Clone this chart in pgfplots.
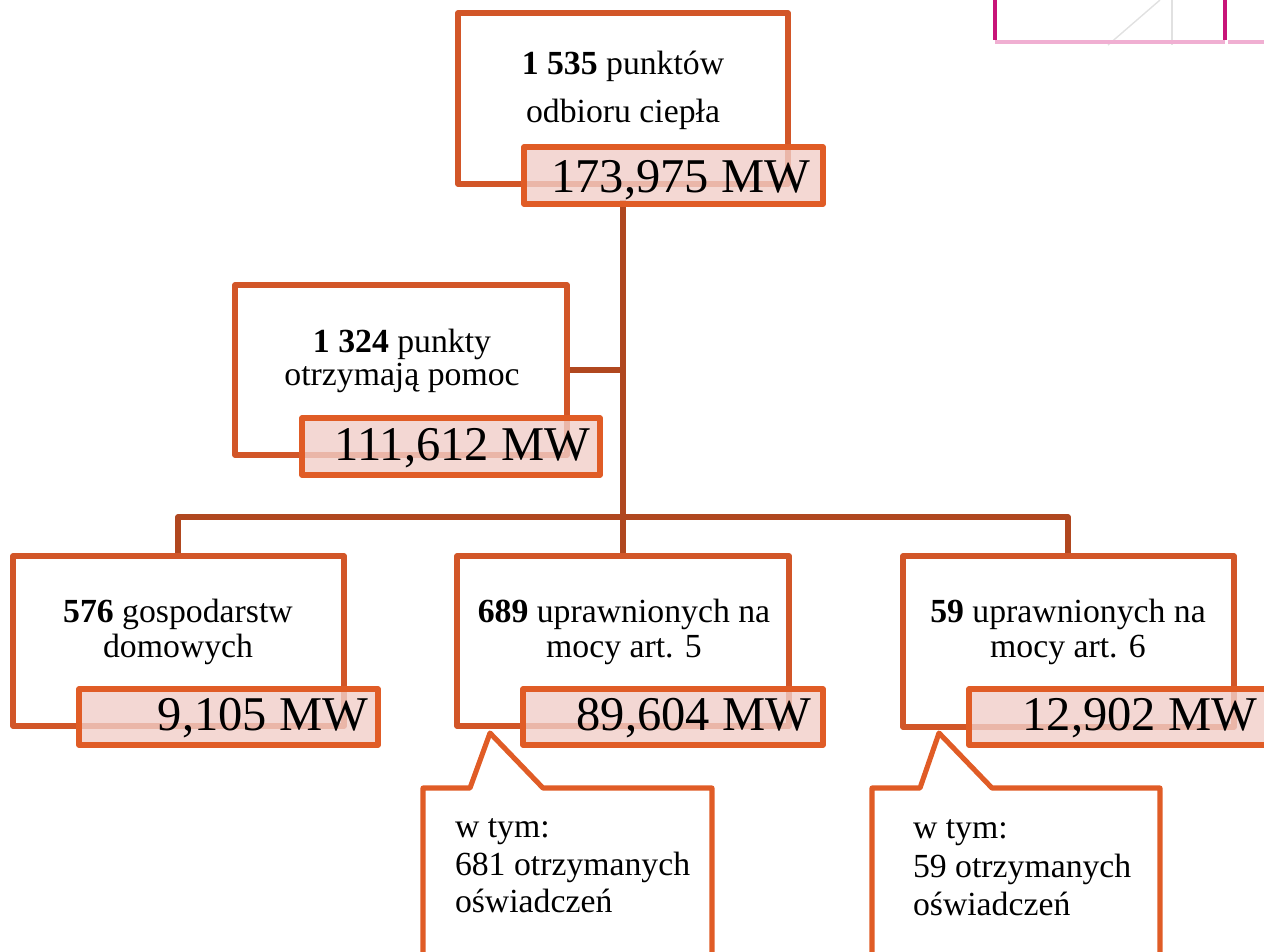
\documentclass[border=0pt]{standalone}
\usepackage{pgfplots}
\pgfplotsset{compat=1.18}
\usepackage{fontspec}
\setmainfont{Liberation Serif}
\definecolor{boxline}{RGB}{210,86,40}
\definecolor{pinkline}{RGB}{224,92,38}
\definecolor{conn}{RGB}{176,71,31}
\definecolor{pinkfill}{RGB}{241,206,200}
\definecolor{mag}{RGB}{200,20,120}
\definecolor{magl}{RGB}{240,175,210}
\definecolor{greyl}{RGB}{225,225,225}

% white box: left, top, right, bottom
\newcommand{\wbox}[4]{\addplot[draw=boxline, line width=1.45pt, line join=round, fill=white] coordinates {(#1,#2) (#3,#2) (#3,#4) (#1,#4)} --cycle;}
% pink value box
\newcommand{\pbox}[4]{\addplot[draw=pinkline, line width=1.45pt, line join=round, fill=pinkfill, fill opacity=0.8] coordinates {(#1,#2) (#3,#2) (#3,#4) (#1,#4)} --cycle;}
\newcommand{\smallf}{\fontsize{9.6}{11}\selectfont}
\newcommand{\bigf}{\fontsize{13.8}{16}\selectfont}
\tikzset{every node/.append style={inner sep=0pt, outer sep=0pt}}

\begin{document}
\begin{tikzpicture}
\begin{axis}[name=ax, at={(0,0)}, anchor=south west, scale only axis,
  width=12.64cm, height=9.51cm, xmin=0, xmax=1264, ymin=0, ymax=951,
  y dir=reverse, hide axis, clip=false]

% logo fragment top right
\addplot[greyl, line width=0.4pt] coordinates {(1108,45) (1160,0)};
\addplot[greyl, line width=0.4pt] coordinates {(1172,0) (1172,45)};
\addplot[magl, line width=1.2pt] coordinates {(995,42) (1225,42)};
\addplot[magl, line width=1.2pt] coordinates {(1228,42) (1264,42)};
\addplot[mag, line width=1.3pt] coordinates {(995,0) (995,40)};
\addplot[mag, line width=1.3pt] coordinates {(1225,0) (1225,40)};

% connectors
\addplot[conn, line width=1.45pt] coordinates {(623,200) (623,517)};
\addplot[conn, line width=1.45pt] coordinates {(565,370) (623,370)};
\addplot[conn, line width=1.45pt, line join=round] coordinates {(178,560) (178,517) (1068,517) (1068,560)};
\addplot[conn, line width=1.45pt] coordinates {(623,517) (623,560)};

% boxes
\wbox{458}{13}{788}{184}
\pbox{524}{147}{823}{204}
\wbox{235}{285}{567}{455}
\pbox{302}{418}{600}{475}
\wbox{13}{556}{344}{726}
\pbox{79}{689}{378}{745}
\wbox{457}{556}{789}{726}
\pbox{523}{689}{823}{745}
\wbox{903}{556}{1234}{727}
\pbox{969}{689}{1270}{745}

% callouts
\addplot[draw=pinkline, line width=1.45pt, line join=round, fill=white] coordinates {(423,960) (423,788) (470,788) (490,733) (543,788) (712,788) (712,960)};
\addplot[draw=pinkline, line width=1.45pt, line join=round, fill=white] coordinates {(872,960) (872,788) (920,788) (939,733) (992,788) (1160,788) (1160,960)};

% texts
\node[anchor=base, font=\smallf] at (axis cs:623,74) {\textbf{1~535} punktów};
\node[anchor=base, font=\smallf] at (axis cs:623,122) {odbioru ciepła};
\node[anchor=base east, font=\bigf] at (axis cs:810,192) {173,975 MW};

\node[anchor=base, font=\smallf] at (axis cs:402,352) {\textbf{1~324} punkty};
\node[anchor=base, font=\smallf] at (axis cs:402,385) {otrzymają pomoc};
\node[anchor=base east, font=\bigf] at (axis cs:590,460) {111,612 MW};

\node[anchor=base, font=\smallf] at (axis cs:178,622) {\textbf{576} gospodarstw};
\node[anchor=base, font=\smallf] at (axis cs:178,657) {domowych};
\node[anchor=base east, font=\bigf] at (axis cs:368,730) {9,105 MW};

\node[anchor=base, font=\smallf] at (axis cs:624,622) {\textbf{689} uprawnionych na};
\node[anchor=base, font=\smallf] at (axis cs:624,657) {mocy art. 5};
\node[anchor=base east, font=\bigf] at (axis cs:811,730) {89,604 MW};

\node[anchor=base, font=\smallf] at (axis cs:1068,622) {\textbf{59} uprawnionych na};
\node[anchor=base, font=\smallf] at (axis cs:1068,657) {mocy art. 6};
\node[anchor=base east, font=\bigf] at (axis cs:1257,730) {12,902 MW};

\node[anchor=base west, font=\smallf] at (axis cs:455,837) {w tym:};
\node[anchor=base west, font=\smallf] at (axis cs:455,875) {681 otrzymanych};
\node[anchor=base west, font=\smallf] at (axis cs:455,912) {oświadczeń};

\node[anchor=base west, font=\smallf] at (axis cs:913,838) {w tym:};
\node[anchor=base west, font=\smallf] at (axis cs:913,877) {59 otrzymanych};
\node[anchor=base west, font=\smallf] at (axis cs:913,915) {oświadczeń};
\end{axis}
\pgfresetboundingbox
\path[use as bounding box] (ax.south west) rectangle (ax.north east);
\end{tikzpicture}
\end{document}
